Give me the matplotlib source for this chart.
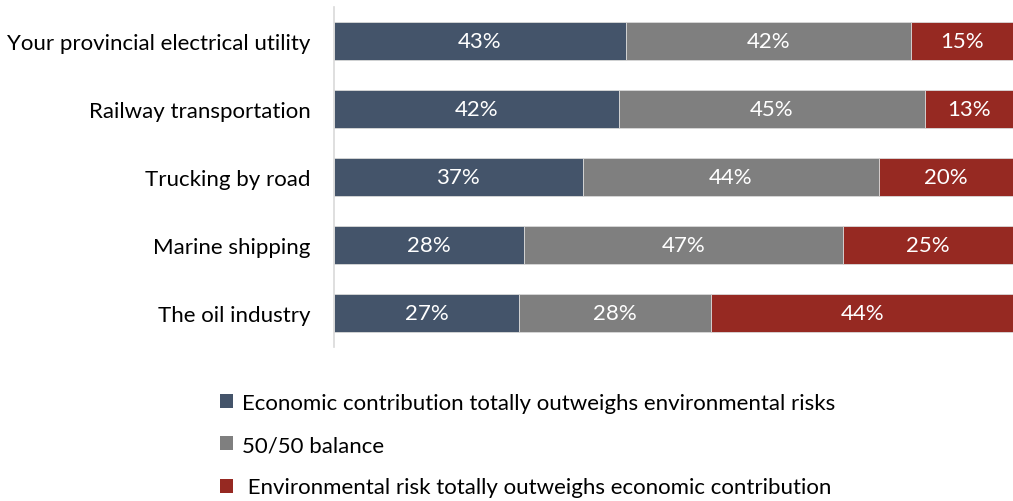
import matplotlib.pyplot as plt
import numpy as np
from matplotlib.patches import Patch

plt.rcParams['font.family'] = ['Lato', 'DejaVu Sans']

categories = ['Your provincial electrical utility', 'Railway transportation',
              'Trucking by road', 'Marine shipping', 'The oil industry']
economic = [43, 42, 37, 28, 27]
balance = [42, 45, 44, 47, 28]
environmental = [15, 13, 20, 25, 44]
series_names = ['Economic contribution totally outweighs environmental risks',
                '50/50 balance',
                ' Environmental risk totally outweighs economic contribution']
colors = ['#44546A', '#7F7F7F', '#962922']

data = np.array([economic, balance, environmental], dtype=float)
shares = data / data.sum(axis=0)  # 100% stacked, like Excel

fig = plt.figure(figsize=(10.13, 5.02), dpi=100)
ax = fig.add_axes([334 / 1013, 1 - 348 / 502, 1 - 334 / 1013, 340 / 502])

y = np.arange(len(categories))
left = np.zeros(len(categories))
for i in range(3):
    bars = ax.barh(y, shares[i], left=left, height=0.55, color=colors[i],
                   edgecolor='#d9d9d9', linewidth=0.6)
    for j, b in enumerate(bars):
        ax.text(left[j] + shares[i][j] / 2, y[j], f'{int(data[i][j])}%',
                ha='center', va='center', color='white', fontsize=16)
    left += shares[i]

ax.set_xlim(0, 1)
ax.set_ylim(len(categories) - 0.5, -0.5)
ax.set_yticks(y)
ax.set_yticklabels(categories, fontsize=16)
ax.tick_params(axis='y', length=0, pad=17)
ax.set_xticks([])
for s in ['top', 'right', 'bottom']:
    ax.spines[s].set_visible(False)
ax.spines['left'].set_color('#d9d9d9')
ax.spines['left'].set_linewidth(1.2)

handles = [Patch(facecolor=c) for c in colors]
fig.legend(handles, series_names, loc='upper left',
           bbox_to_anchor=(200 / 1013, 1 - 374 / 502), frameon=False,
           fontsize=16, handlelength=0.6, handleheight=0.6,
           handletextpad=0.4, labelspacing=1.0)

fig.savefig('out.png', dpi=100)
